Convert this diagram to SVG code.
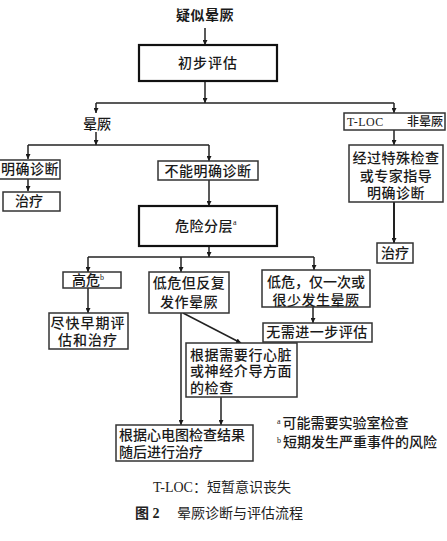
<svg xmlns="http://www.w3.org/2000/svg" width="447" height="541" viewBox="0 0 447 541">
<defs>
<marker id="ah" viewBox="0 0 10 10" refX="10" refY="5" markerWidth="5" markerHeight="5" markerUnits="userSpaceOnUse" orient="auto">
<path d="M0,0 L10,5 L0,10 z" fill="#1a1a1a"/>
</marker>
<style>
.box{fill:#fff;stroke:#333;stroke-width:1.5}
.tbox{fill:#fff;stroke:#111;stroke-width:2.2}
.ln{fill:none;stroke:#222;stroke-width:1.5}
.arr{fill:none;stroke:#222;stroke-width:1.5;marker-end:url(#ah)}
text{font-family:"Liberation Serif","Noto Sans CJK SC",serif;font-size:14px;fill:#1a1a1a;font-weight:500}
.c{text-anchor:middle}
.cap{font-weight:normal;fill:#222}
.sm{font-size:12px}
</style>
</defs>
<g id="connectors">
<line class="arr" x1="205" y1="28" x2="205" y2="45"/>
<line class="arr" x1="205" y1="82" x2="205" y2="103"/>
<line class="ln" x1="96" y1="103" x2="394" y2="103"/>
<line class="arr" x1="96" y1="103" x2="96" y2="113"/>
<line class="arr" x1="394" y1="103" x2="394" y2="113"/>
<line class="arr" x1="96" y1="132" x2="96" y2="145"/>
<line class="ln" x1="28" y1="145" x2="209" y2="145"/>
<line class="arr" x1="28" y1="145" x2="28" y2="159"/>
<line class="arr" x1="209" y1="145" x2="209" y2="161"/>
<line class="arr" x1="28" y1="179" x2="28" y2="191"/>
<line class="arr" x1="209" y1="180" x2="209" y2="206"/>
<line class="arr" x1="394" y1="130" x2="394" y2="145"/>
<line class="arr" x1="394" y1="202" x2="394" y2="243" style="stroke-width:2"/>
<line class="arr" x1="209" y1="247" x2="209" y2="257"/>
<line class="ln" x1="88" y1="257" x2="314" y2="257"/>
<line class="arr" x1="88" y1="257" x2="88" y2="272"/>
<line class="arr" x1="181" y1="257" x2="181" y2="272"/>
<line class="arr" x1="314" y1="257" x2="314" y2="270"/>
<line class="arr" x1="88" y1="288" x2="88" y2="313"/>
<line class="arr" x1="313" y1="307" x2="313" y2="323"/>
<line class="arr" x1="183" y1="313" x2="241" y2="343"/>
<line class="arr" x1="181" y1="313" x2="181" y2="425"/>
<line class="arr" x1="221" y1="397" x2="221" y2="425"/>
</g>
<g id="n-suspect"><text class="c" x="205" y="20" style="font-weight:bold" letter-spacing="0.5">疑似晕厥</text></g>
<g id="n-initial"><rect class="tbox" x="139" y="45" width="138" height="36"/><text class="c" x="208" y="68" letter-spacing="1">初步评估</text></g>
<g id="n-syncope"><text class="c" x="97" y="129">晕厥</text></g>
<g id="n-tloc"><rect class="box" x="344" y="113" width="101" height="17"/><text class="sm" x="347" y="126" letter-spacing="0.5">T-LOC</text><text class="sm" x="407" y="126">非晕厥</text></g>
<g id="n-dx"><rect class="box" x="-1" y="160" width="61" height="19"/><text x="1" y="174" letter-spacing="0.5">明确诊断</text></g>
<g id="n-tx1"><rect class="box" x="3" y="192" width="57" height="19"/><text class="c" x="29" y="206">治疗</text></g>
<g id="n-nodx"><rect class="box" x="158" y="161" width="100" height="19"/><text class="c" x="208" y="176" letter-spacing="0.5">不能明确诊断</text></g>
<g id="n-special"><rect class="box" x="349" y="145" width="94" height="57"/><text class="c" x="396" y="163" letter-spacing="0.5">经过特殊检查</text><text class="c" x="396" y="181" letter-spacing="0.5">或专家指导</text><text class="c" x="396" y="198" letter-spacing="0.5">明确诊断</text></g>
<g id="n-tx2"><rect class="box" x="377" y="243" width="36" height="20"/><text class="c" x="395" y="258">治疗</text></g>
<g id="n-risk"><rect class="tbox" x="139" y="206" width="138" height="40"/><text class="c" x="206" y="231" letter-spacing="0.5">危险分层<tspan dy="-6" font-size="8">a</tspan></text></g>
<g id="n-high"><rect class="box" x="63" y="272" width="58" height="16"/><text x="72" y="285">高危<tspan dy="-5" font-size="8">b</tspan></text></g>
<g id="n-lowrep"><rect class="box" x="149" y="272" width="80" height="41"/><text class="c" x="189" y="288" letter-spacing="0.5">低危但反复</text><text class="c" x="189" y="307" letter-spacing="0.5">发作晕厥</text></g>
<g id="n-lowonce"><rect class="box" x="262" y="270" width="108" height="37"/><text class="c" x="316" y="287">低危，仅一次或</text><text class="c" x="316" y="305" letter-spacing="0.5">很少发生晕厥</text></g>
<g id="n-early"><rect class="box" x="49" y="313" width="79" height="36"/><text class="c" x="88" y="328" letter-spacing="1">尽快早期评</text><text class="c" x="88" y="345" letter-spacing="1">估和治疗</text></g>
<g id="n-nofurther"><rect class="box" x="263" y="323" width="109" height="19"/><text class="c" x="317" y="337" letter-spacing="0.5">无需进一步评估</text></g>
<g id="n-cardiac"><rect class="box" x="186" y="343" width="111" height="54"/><text x="190" y="360" letter-spacing="0.6">根据需要行心脏</text><text x="190" y="376" letter-spacing="0.6">或神经介导方面</text><text x="190" y="393" letter-spacing="0.6">的检查</text></g>
<g id="n-ecg"><rect class="box" x="116" y="425" width="137" height="36"/><text x="119" y="440">根据心电图检查结果</text><text x="119" y="457">随后进行治疗</text></g>
<g id="notes"><text x="277" y="428"><tspan font-size="8" dy="-4">a</tspan><tspan dx="2" dy="4">可能需要实验室检查</tspan></text><text x="277" y="447"><tspan font-size="8" dy="-4">b</tspan><tspan dx="2" dy="4">短期发生严重事件的风险</tspan></text></g>
<g id="caption"><text class="cap" x="153" y="492">T-LOC：短暂意识丧失</text><text class="cap" x="135" y="518"><tspan style="font-weight:bold">图 2</tspan><tspan x="177">晕厥诊断与评估流程</tspan></text></g>
</svg>
